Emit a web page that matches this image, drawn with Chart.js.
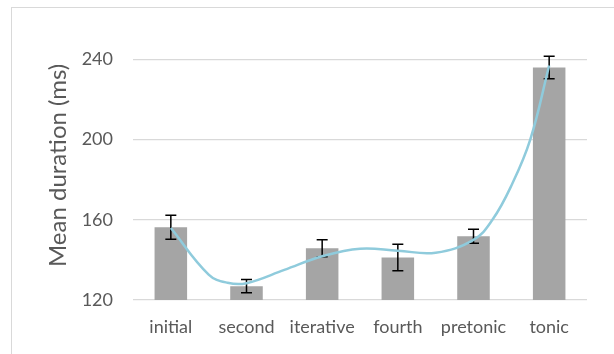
<!DOCTYPE html>
<html>
<head>
<meta charset="utf-8">
<script src="https://cdn.jsdelivr.net/npm/chart.js@4.4.1/dist/chart.umd.min.js"></script>
<style>
  body { margin: 0; background: #fff; }
  #wrap { width: 614px; height: 354px; }
</style>
</head>
<body>
<div id="wrap"><canvas id="durations" width="614" height="354"></canvas></div>
<script>
let categories = ['initial', 'second', 'iterative', 'fourth', 'pretonic', 'tonic'];
let meanDurations = [156.3, 126.9, 145.8, 141.2, 151.8, 236.0];
let errors = [6.0, 3.3, 4.2, 6.6, 3.5, 5.6];
let yTicks = [120, 160, 200, 240];

// trend curve, x in category units (0 = initial)
let trendX = [0, 0.5, 0.75, 1, 1.5, 2, 2.5, 3, 3.5, 4, 4.25, 4.5, 4.75, 5];
let trendY = [155.9, 132.7, 128.6, 128.4, 135.0, 141.8, 145.6, 144.6, 143.6, 150.0, 160.0, 177.0, 200.0, 237.0];

let textColor = '#595959';

let framePlugin = {
  id: 'frame',
  beforeDraw(chart) {
    let ctx = chart.ctx;
    ctx.save();
    ctx.strokeStyle = '#d9d9d9';
    ctx.lineWidth = 1;
    ctx.strokeRect(11.5, 7.5, 700, 400);
    ctx.restore();
  }
};

let errorBars = {
  id: 'errorBars',
  afterDatasetDraw(chart, args) {
    if (args.index !== 0) return;
    let ctx = chart.ctx;
    let y = chart.scales.y;
    ctx.save();
    ctx.strokeStyle = '#000';
    ctx.lineWidth = 1.5;
    args.meta.data.forEach((bar, i) => {
      let top = y.getPixelForValue(meanDurations[i] + errors[i]);
      let bottom = y.getPixelForValue(meanDurations[i] - errors[i]);
      ctx.beginPath();
      ctx.moveTo(bar.x, top);
      ctx.lineTo(bar.x, bottom);
      ctx.moveTo(bar.x - 5.5, top);
      ctx.lineTo(bar.x + 5.5, top);
      ctx.moveTo(bar.x - 5.5, bottom);
      ctx.lineTo(bar.x + 5.5, bottom);
      ctx.stroke();
    });
    ctx.restore();
  }
};

let durationChart = new Chart(document.getElementById('durations').getContext('2d'), {
  type: 'bar',
  data: {
    labels: categories,
    datasets: [{
      label: 'Mean duration',
      data: meanDurations,
      backgroundColor: '#a5a5a5',
      barPercentage: 0.43,
      categoryPercentage: 1,
      grouped: false,
      order: 2
    },
    {
      type: 'line',
      label: 'Trend',
      data: trendX.map((x, i) => ({x: x, y: trendY[i]})),
      xAxisID: 'xt',
      borderColor: '#8fcbdc',
      borderWidth: 2.5,
      pointRadius: 0,
      tension: 0.4,
      fill: false,
      order: 1
    }]
  },
  options: {
    responsive: false,
    animation: false,
    layout: { padding: { top: 28, right: 27, bottom: 0, left: 0 } },
    plugins: {
      legend: { display: false },
      tooltip: { enabled: false }
    },
    scales: {
      x: {
        grid: { display: false },
        border: { display: false },
        ticks: { color: textColor, font: { family: 'Lato', size: 18 }, padding: 8, maxRotation: 0 },
        afterFit(scale) { scale.height = 54; }
      },
      xt: {
        type: 'linear',
        display: false,
        offset: false,
        min: -0.5,
        max: 5.5
      },
      y: {
        min: 120,
        max: 254.3,
        afterBuildTicks(scale) { scale.ticks = yTicks.map(v => ({value: v})); },
        grid: { color: '#d9d9d9', lineWidth: 1.3, drawTicks: false },
        border: { display: false },
        ticks: { color: textColor, font: { family: 'Lato', size: 18 }, padding: 20 },
        title: {
          display: true,
          text: 'Mean duration (ms)',
          color: textColor,
          font: { family: 'Lato', size: 24 },
          padding: { top: 44, bottom: 0 }
        },
        afterFit(scale) { scale.width = 133; }
      }
    }
  },
  plugins: [framePlugin, errorBars]
});
</script>
</body>
</html>
